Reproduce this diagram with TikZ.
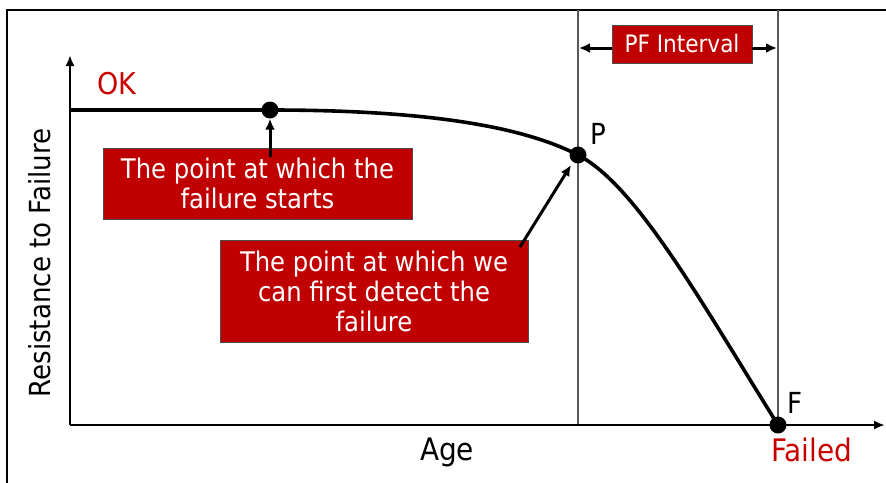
\documentclass[tikz,border=0pt]{standalone}
\usepackage{fontspec}
\setmainfont{DejaVu Sans Condensed}
\usetikzlibrary{arrows.meta}
\definecolor{boxred}{HTML}{C00000}
\definecolor{txtred}{HTML}{C80000}
\begin{document}
\begin{tikzpicture}[x=1pt,y=-1pt,
  redbox/.style={fill=boxred, draw=black!70, line width=0.8pt, text=white, align=center, inner sep=0pt},
  axis/.style={line width=2.6pt, -{Latex[length=11pt,width=9pt]}},
  ptr/.style={line width=3pt, -{Latex[length=11pt,width=10pt]}},
  guide/.style={draw=black!65, line width=1.3pt},
  dot/.style={circle, fill=black, inner sep=0pt, minimum size=17pt},
  lbl/.style={inner sep=0pt, anchor=center}]
\useasboundingbox (0,0) rectangle (886,482);
% frame
\draw[line width=2pt] (7,483) -- (7,10) -- (887,10);
% coordinates
\coordinate (O) at (70,425);
\coordinate (ytop) at (70,55);
\coordinate (xend) at (885,425);
\coordinate (start) at (70,110);
\coordinate (S) at (270,110);
\coordinate (P) at (578,155);
\coordinate (F) at (778,425);
\coordinate (Ptop) at (578,10);
\coordinate (Ftop) at (778,10);
\coordinate (Pbot) at (578,425);
% guides
\draw[guide] (Ptop) -- (Pbot);
\draw[guide] (Ftop) -- (F);
% axes
\draw[axis] (O) -- (ytop);
\draw[axis] (O) -- (xend);
% curve
\draw[line width=3.6pt] (start) -- (S) .. controls (420,110) and (520,125) .. (P)
   .. controls (636,185) and (700,300) .. (F);
\node[dot] (Sd) at (S) {};
\node[dot] (Pd) at (P) {};
\node[dot] (Fd) at (F) {};
% labels
\node[lbl, text=txtred, font=\fontsize{30}{34}\selectfont] (ok) at (117,84) {OK};
\node[lbl, font=\fontsize{29}{33}\selectfont] (Pl) at (598,134) {P};
\node[lbl, font=\fontsize{29}{33}\selectfont] (Fl) at (795,403) {F};
\node[lbl, text=txtred, font=\fontsize{31}{35}\selectfont] (failed) at (812,450) {Failed};
\node[lbl, font=\fontsize{31}{35}\selectfont] (age) at (447,452) {Age};
\node[lbl, rotate=90, font=\fontsize{29}{33}\selectfont] (res) at (40,263) {Resistance to Failure};
% boxes
\node[redbox, minimum width=309pt, minimum height=71pt, font=\fontsize{27}{30}\selectfont] (b1) at (257.5,183.5) {The point at which the\\failure starts};
\node[redbox, minimum width=308pt, minimum height=102pt, font=\fontsize{27}{30}\selectfont] (b2) at (374,291) {The point at which we\\can first detect the\\failure};
\node[redbox, minimum width=140pt, minimum height=38pt, font=\fontsize{24}{28}\selectfont] (pf) at (682,44) {PF Interval};
% pointers
\draw[ptr] (270,157) -- (Sd.south);
\draw[ptr] (520,247) -- (571,165);
\coordinate (pfl) at (579,48);
\coordinate (pfr) at (777,48);
\draw[ptr] (pf.west |- pfl) -- (pfl);
\draw[ptr] (pf.east |- pfr) -- (pfr);
\end{tikzpicture}
\end{document}
